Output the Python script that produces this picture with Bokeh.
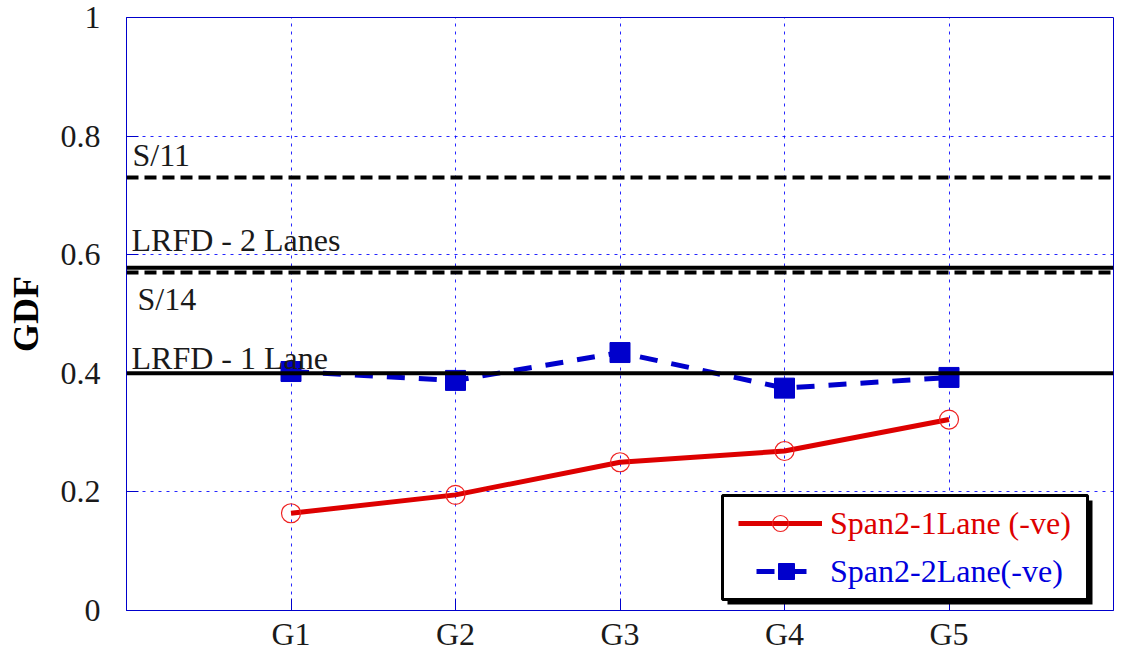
from bokeh.plotting import figure
from bokeh.models import (FixedTicker, Span, Label, Legend, LegendItem,
                          BoxAnnotation)
from bokeh.embed import file_html
from bokeh.resources import INLINE

# ---------------- data ----------------
girders = ["G1", "G2", "G3", "G4", "G5"]
girder_pos = [1, 2, 3, 4, 5]
span2_1lane = [0.164, 0.195, 0.250, 0.269, 0.322]
span2_2lane = [0.403, 0.388, 0.435, 0.375, 0.393]
series_names = ["Span2-1Lane (-ve)", "Span2-2Lane(-ve)"]

ref_names = ["S/11", "LRFD - 2 Lanes", "S/14", "LRFD - 1 Lane"]
ref_values = [0.730, 0.578, 0.570, 0.400]
ref_dashed = [True, False, True, False]

y_ticks = [0, 0.2, 0.4, 0.6, 0.8, 1.0]
y_tick_labels = ["0", "0.2", "0.4", "0.6", "0.8", "1"]

# ---------------- styling ----------------
FONT = "Liberation Serif"
TXT = "#1a1a1a"
BLUE_FRAME = "#0000CC"
RED = "#DD0000"
BLUE = "#0000CC"
# label pixel offsets (x_offset, y_offset) relative to each reference line
label_offsets = {"S/11": (6, 23), "LRFD - 2 Lanes": (5, 28),
                 "S/14": (11, -27), "LRFD - 1 Lane": (5, 15)}

p = figure(width=1114, height=655, x_range=(0, 6), y_range=(0, 1),
           output_backend="svg", toolbar_location=None,
           min_border_left=126, min_border_right=1,
           min_border_top=17, min_border_bottom=45)

p.background_fill_color = "white"
p.border_fill_color = "white"
p.outline_line_color = BLUE_FRAME
p.outline_line_width = 1

p.xaxis.ticker = FixedTicker(ticks=girder_pos)
p.xaxis.major_label_overrides = dict(zip(girder_pos, girders))
p.yaxis.ticker = FixedTicker(ticks=y_ticks)
p.yaxis.major_label_overrides = dict(zip(y_ticks, y_tick_labels))

for ax in p.axis:
    ax.axis_line_color = BLUE_FRAME
    ax.major_tick_line_color = BLUE_FRAME
    ax.major_tick_in = 12
    ax.major_tick_out = 0
    ax.minor_tick_line_color = None
    ax.major_label_text_font = FONT
    ax.major_label_text_font_size = "32px"
    ax.major_label_text_color = TXT

p.xaxis.major_label_standoff = 5
p.yaxis.major_label_standoff = 26
p.yaxis.axis_label = "GDF"
p.yaxis.axis_label_text_font = FONT
p.yaxis.axis_label_text_font_size = "36px"
p.yaxis.axis_label_text_font_style = "bold"
p.yaxis.axis_label_text_color = "black"
p.yaxis.axis_label_standoff = 12

p.grid.grid_line_color = "#0000FF"
p.grid.grid_line_dash = "3 5"
p.grid.grid_line_width = 1
p.grid.grid_line_alpha = 0.85

# ---------------- data series ----------------
red_line = p.line(girder_pos, span2_1lane, line_color=RED, line_width=5)
red_pts = p.scatter(girder_pos, span2_1lane, marker="circle", size=19,
                    fill_color=None, line_color="#EE2222", line_width=1.2)
blue_line = p.line(girder_pos, span2_2lane, line_color=BLUE, line_width=5,
                   line_dash="18 14")
blue_pts = p.scatter(girder_pos, span2_2lane, marker="square", size=20,
                     fill_color=BLUE, line_color=BLUE)

# ---------------- reference lines ----------------
for name, val, dashed in zip(ref_names, ref_values, ref_dashed):
    p.add_layout(Span(location=val, dimension="width", line_color="black",
                      line_width=4, line_dash="12 6" if dashed else "solid"))
    dx, dy = label_offsets[name]
    p.add_layout(Label(x=0, y=val, x_offset=dx, y_offset=dy, text=name,
                       text_baseline="alphabetic", text_font=FONT,
                       text_font_size="32px", text_color=TXT))

# ---------------- legend (box with shadow + two coloured rows) ----------------
bx0, bx1, by0, by1 = 596, 961, 11, 115
p.add_layout(BoxAnnotation(left=bx0 + 5, right=bx1 + 5, bottom=by0 - 5, top=by1 - 5,
                           left_units="screen", right_units="screen",
                           bottom_units="screen", top_units="screen",
                           fill_color="black", fill_alpha=1, line_color=None))
p.add_layout(BoxAnnotation(left=bx0, right=bx1, bottom=by0, top=by1,
                           left_units="screen", right_units="screen",
                           bottom_units="screen", top_units="screen",
                           fill_color="white", fill_alpha=1,
                           line_color="black", line_width=3, line_alpha=1))

common = dict(orientation="vertical", glyph_height=40, label_height=40, padding=0,
              margin=0, spacing=0, background_fill_alpha=0, border_line_color=None,
              label_text_font=FONT, label_text_font_size="32px")
leg1 = Legend(items=[LegendItem(label=series_names[0], renderers=[red_line, red_pts])],
              location=(bx0 + 16, by1 - 48), glyph_width=84, label_standoff=8,
              label_text_color=RED, **common)
leg2 = Legend(items=[LegendItem(label=series_names[1], renderers=[blue_line, blue_pts])],
              location=(bx0 + 34, by1 - 96), glyph_width=60, label_standoff=14,
              label_text_color="#0000DD", **common)
p.add_layout(leg1, "center")
p.add_layout(leg2, "center")

open("out.html", "w").write(file_html(p, INLINE))
